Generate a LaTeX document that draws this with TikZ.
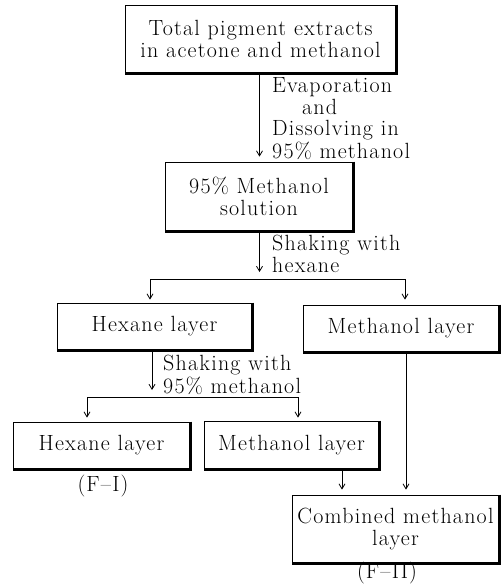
\documentclass[tikz,border=0pt]{standalone}
\usepackage{fontspec}
\setmainfont{Latin Modern Roman}[LetterSpace=5.5]
\usetikzlibrary{arrows.meta}
\newcommand\dgfont{\fontsize{22}{22}\selectfont}
\newcommand\lbfontA{\fontsize{22}{20.6}\selectfont}
\newcommand\lbfontB{\fontsize{22}{22}\selectfont}
\begin{document}
\begin{tikzpicture}[x=1pt,y=-1pt,
  box/.style={draw, line width=0.8pt, inner sep=0pt, align=center, font=\dgfont},
  thickedge/.style={line width=2.8pt},
  conn/.style={line width=0.8pt},
  arr/.style={conn, -{Straight Barb[length=5pt,width=6pt,line width=0.8pt]}},
  lbl/.style={inner sep=0pt, anchor=base west},
  tag/.style={inner sep=0pt, anchor=base, font=\dgfont}]
\useasboundingbox (0,0) rectangle (502,585);
% boxes
\node[box, minimum width=271pt, minimum height=68pt] (b1) at (260.5,39) {Total pigment extracts\\in acetone and methanol};
\node[box, minimum width=188pt, minimum height=69pt] (b2) at (259,196.5) {95\% Methanol\\solution};
\node[box, minimum width=195pt, minimum height=47pt] (b3) at (154.5,326.5) {Hexane layer};
\node[box, minimum width=196pt, minimum height=47pt] (b4) at (401,328.5) {Methanol layer};
\node[box, minimum width=177pt, minimum height=47pt] (b5) at (101.5,445.5) {Hexane layer};
\node[box, minimum width=175pt, minimum height=48pt] (b6) at (291.5,445) {Methanol layer};
\node[box, minimum width=207pt, minimum height=68pt] (b7) at (395.5,529) {Combined methanol\\layer};
\foreach \n in {b1,b2,b3,b4,b5,b6,b7}
  \draw[thickedge] (\n.north east) -- (\n.south east) -- (\n.south west);
% tags
\node[tag] (f1) at (103,491) {(F--I)};
\node[tag] (f2) at (387,578) {(F--II)};
% labels
\node[lbl] (l1) at (272,93) {\lbfontA\begin{tabular}[t]{@{}l@{}}Evaporation\\\hspace*{30pt}and\\Dissolving in\\95\% methanol\end{tabular}};
\node[lbl] (l2) at (272,250) {\lbfontB\begin{tabular}[t]{@{}l@{}}Shaking with\\hexane\end{tabular}};
\node[lbl] (l3) at (163,370) {\lbfontB\begin{tabular}[t]{@{}l@{}}Shaking with\\95\% methanol\end{tabular}};
% connector columns
\coordinate (c1) at (259.5,0);
\coordinate (c2) at (152,0);
\coordinate (c3) at (342,0);
\coordinate (c4) at (406,0);
\coordinate (hL) at (150,279);
\coordinate (hR) at (405,279);
\coordinate (gL) at (87,397);
\coordinate (gR) at (298,397);
% connectors
\draw[arr, shorten >=5pt] (c1 |- b1.south) -- (c1 |- b2.north);
\draw[arr, shorten >=7pt] (c1 |- b2.south) -- (c1 |- hL);
\draw[conn] (hL) -- (hR);
\draw[arr, shorten >=3pt] (hL) -- (hL |- b3.north);
\draw[arr, shorten >=5pt] (hR) -- (hR |- b4.north);
\draw[arr, shorten >=7pt] (c2 |- b3.south) -- (c2 |- gL);
\draw[conn] (gL) -- (gR);
\draw[arr, shorten >=4pt] (gL) -- (gL |- b5.north);
\draw[arr, shorten >=3pt] (gR) -- (gR |- b6.north);
\draw[arr, shorten >=5pt] (c3 |- b6.south) -- (c3 |- b7.north);
\draw[arr, shorten >=5pt] (c4 |- b4.south) -- (c4 |- b7.north);
\end{tikzpicture}
\end{document}
